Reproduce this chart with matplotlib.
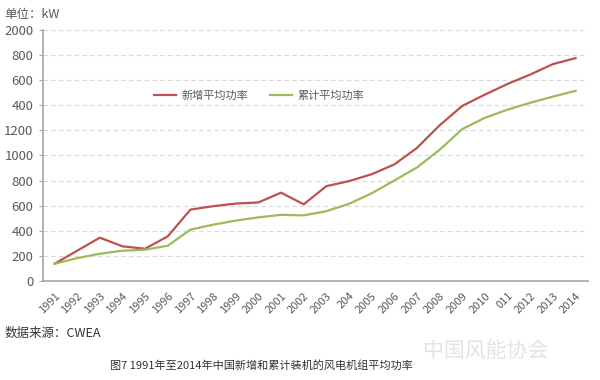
import matplotlib
matplotlib.use('Agg')
import matplotlib.pyplot as plt

plt.rcParams['font.family'] = ['Noto Sans CJK SC', 'DejaVu Sans']

# data (kW)
years = ['1991', '1992', '1993', '1994', '1995', '1996', '1997', '1998', '1999', '2000',
         '2001', '2002', '2003', '204', '2005', '2006', '2007', '2008', '2009', '2010',
         '011', '2012', '2013', '2014']
new_avg = [136, 240, 344, 275, 256, 355, 568, 595, 616, 625,
           703, 610, 755, 795, 850, 928, 1060, 1240, 1395, 1485,
           1570, 1645, 1728, 1776]
cum_avg = [136, 181, 216, 240, 248, 280, 408, 448, 480, 506,
           526, 522, 555, 614, 698, 800, 904, 1045, 1210, 1300,
           1365, 1420, 1469, 1515]
ytick_vals = [0, 200, 400, 600, 800, 1000, 1200, 1400, 1600, 1800, 2000]
ytick_labels = ['0', '200', '400', '600', '800', '1000', '1200', '400', '600', '800', '2000']

txt = '#595959'
fig = plt.figure(figsize=(6, 3.8), dpi=100)
ax = fig.add_axes([0.072, 0.261, 0.908, 0.66])

x = range(len(years))
ax.plot(x, new_avg, color='#C0504D', lw=1.6, label='新增平均功率')
ax.plot(x, cum_avg, color='#9BBB59', lw=1.6, label='累计平均功率')

ax.set_xlim(-0.5, 23.55)
ax.set_ylim(0, 2000)
ax.set_yticks(ytick_vals)
ax.set_yticklabels(ytick_labels)
ax.set_xticks(list(x))
ax.set_xticklabels(years, rotation=45, ha='right', rotation_mode='anchor')

ax.grid(axis='y', color='#d9d9d9', ls=(0, (4, 3)), lw=0.8)
ax.set_axisbelow(True)
for s in ['top', 'right']:
    ax.spines[s].set_visible(False)
ax.spines['left'].set_color('#a6a6a6')
ax.spines['bottom'].set_color('#a6a6a6')
ax.spines['left'].set_linewidth(1.2)
ax.spines['bottom'].set_linewidth(1.2)
ax.tick_params(axis='y', colors='#a6a6a6', labelcolor=txt, labelsize=9.5, length=3, pad=4)
ax.tick_params(axis='x', length=0, labelcolor=txt, labelsize=8, pad=7)

ax.legend(loc='upper left', bbox_to_anchor=(0.185, 0.80), ncol=2, frameon=False,
          fontsize=8, labelcolor=txt, handlelength=2.0, columnspacing=2.0, handletextpad=0.45)

fig.text(0.008, 0.962, '单位：kW', fontsize=9, color=txt, va='center')
fig.text(0.008, 0.123, '数据来源：CWEA', fontsize=9, color='#333333', va='center')
fig.text(0.435, 0.037, '图7 1991年至2014年中国新增和累计装机的风电机组平均功率',
         fontsize=8, color='#333333', ha='center', va='center')
fig.text(0.81, 0.075, '中国风能协会', fontsize=15, color='#e3e3e3', ha='center', va='center')

fig.savefig('out.png', dpi=100)
